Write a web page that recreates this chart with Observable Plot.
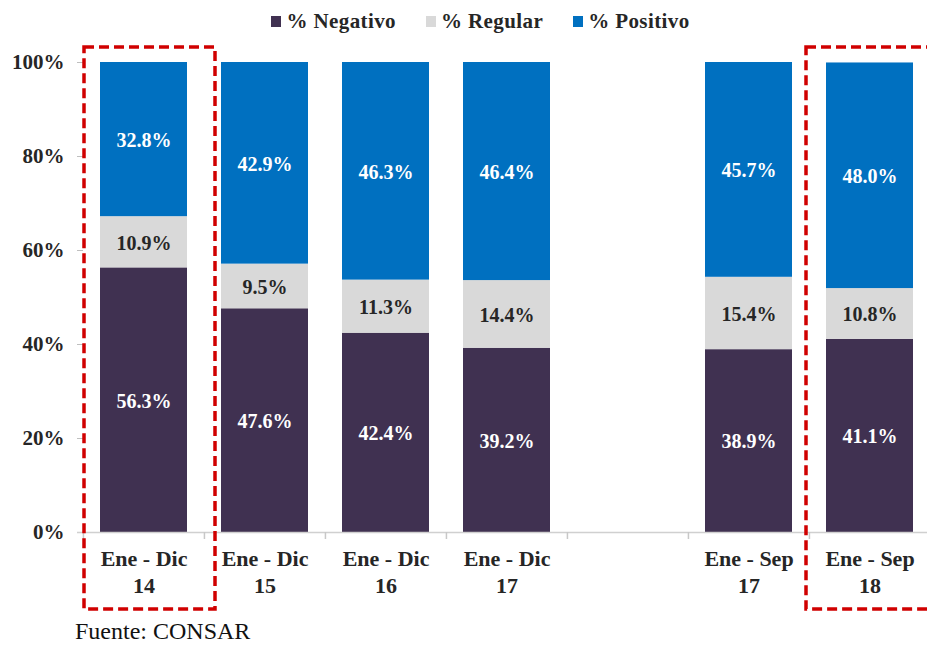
<!DOCTYPE html>
<html>
<head>
<meta charset="utf-8">
<script src="https://cdn.jsdelivr.net/npm/d3@7"></script>
<script src="https://cdn.jsdelivr.net/npm/@observablehq/plot@0.6"></script>
<style>
  body { margin: 0; background: #fff; font-family: "Liberation Serif", serif; overflow: hidden; }
  #legend { height: 40px; display: flex; justify-content: center; align-items: center; gap: 30px; padding-left: 34px; padding-top: 2px; box-sizing: border-box; font-weight: bold; font-size: 21px; color: #262626; letter-spacing: 0.4px; }
  #legend span.sw { display: inline-block; width: 10px; height: 11px; margin-right: 5px; vertical-align: 1px; }
  #footer { margin-left: 75px; font-size: 24px; color: #111; padding-top: 6px; }
</style>
</head>
<body>
<div id="legend"></div>
<div id="chart"></div>
<div id="footer">Fuente: CONSAR</div>
<script>
const categories = ["Ene - Dic\n14", "Ene - Dic\n15", "Ene - Dic\n16", "Ene - Dic\n17", " ", "Ene - Sep\n17", "Ene - Sep\n18"];
const barCategories = ["Ene - Dic\n14", "Ene - Dic\n15", "Ene - Dic\n16", "Ene - Dic\n17", "Ene - Sep\n17", "Ene - Sep\n18"];
const series = ["% Negativo", "% Regular", "% Positivo"];
const colors = ["#403151", "#D9D9D9", "#0070C0"];
const labelColors = ["#ffffff", "#262626", "#ffffff"];
const negativo = [56.3, 47.6, 42.4, 39.2, 38.9, 41.1];
const regular = [10.9, 9.5, 11.3, 14.4, 15.4, 10.8];
const positivo = [32.8, 42.9, 46.3, 46.4, 45.7, 48.0];
const yTicks = [0, 20, 40, 60, 80, 100];
const highlighted = ["Ene - Dic\n14", "Ene - Sep\n18"];

const values = [negativo, regular, positivo];
const data = [];
barCategories.forEach((c, i) => {
  series.forEach((s, j) => data.push({cat: c, series: s, value: values[j][i]}));
});

// legend
const legend = document.getElementById("legend");
series.forEach((s, j) => {
  const item = document.createElement("div");
  item.innerHTML = `<span class="sw" style="background:${colors[j]}"></span>${s}`;
  legend.appendChild(item);
});

const W = 927, mL = 83, mR = -4;
const step = (W - mL - mR) / categories.length;
const font = "Liberation Serif";

const plot = Plot.plot({
  width: W,
  height: 572,
  marginLeft: mL,
  marginRight: mR,
  marginTop: 22,
  marginBottom: 80,
  style: {fontFamily: font, fontWeight: "bold", color: "#262626", overflow: "visible"},
  x: {domain: categories, paddingInner: 0.28, paddingOuter: 0.14, label: null},
  y: {domain: [0, 100], label: null},
  color: {domain: series, range: colors},
  marks: [
    Plot.axisY({ticks: yTicks, tickFormat: d => d + "%", tickSize: 6, tickPadding: 13, stroke: "#bfbfbf", fontSize: 21, fontWeight: "bold", label: null}),
    Plot.axisX({tickSize: 0, tickPadding: 14, fontSize: 22, fontWeight: "bold", lineHeight: 1.23, label: null}),
    Plot.barY(data, Plot.stackY({x: "cat", y: "value", fill: "series", order: series})),
    Plot.text(data, Plot.stackY({x: "cat", y: "value", z: "series", order: series,
      text: d => d.value.toFixed(1) + "%",
      fill: d => labelColors[series.indexOf(d.series)],
      fontSize: 20, fontWeight: "bold", dy: 1})),
    Plot.ruleY([0], {stroke: "#d0d0d0", strokeWidth: 1.5, insetLeft: -6}),
    Plot.ruleX(categories, {x: d => d, y1: 0, y2: 0, dx: -step / 2, insetBottom: -7, stroke: "#c8c8c8", strokeWidth: 1.5}),
    Plot.barY([highlighted[0]], {x: d => d, y1: 103.2, y2: -16.4, fill: "none", stroke: "#D00000", strokeWidth: 3.5, strokeDasharray: "10,5", insetLeft: -16, insetRight: -28}),
    Plot.barY([highlighted[1]], {x: d => d, y1: 103.2, y2: -16.4, fill: "none", stroke: "#D00000", strokeWidth: 3.5, strokeDasharray: "10,5", insetLeft: -20, insetRight: -40})
  ]
});
document.getElementById("chart").appendChild(plot);
</script>
</body>
</html>
